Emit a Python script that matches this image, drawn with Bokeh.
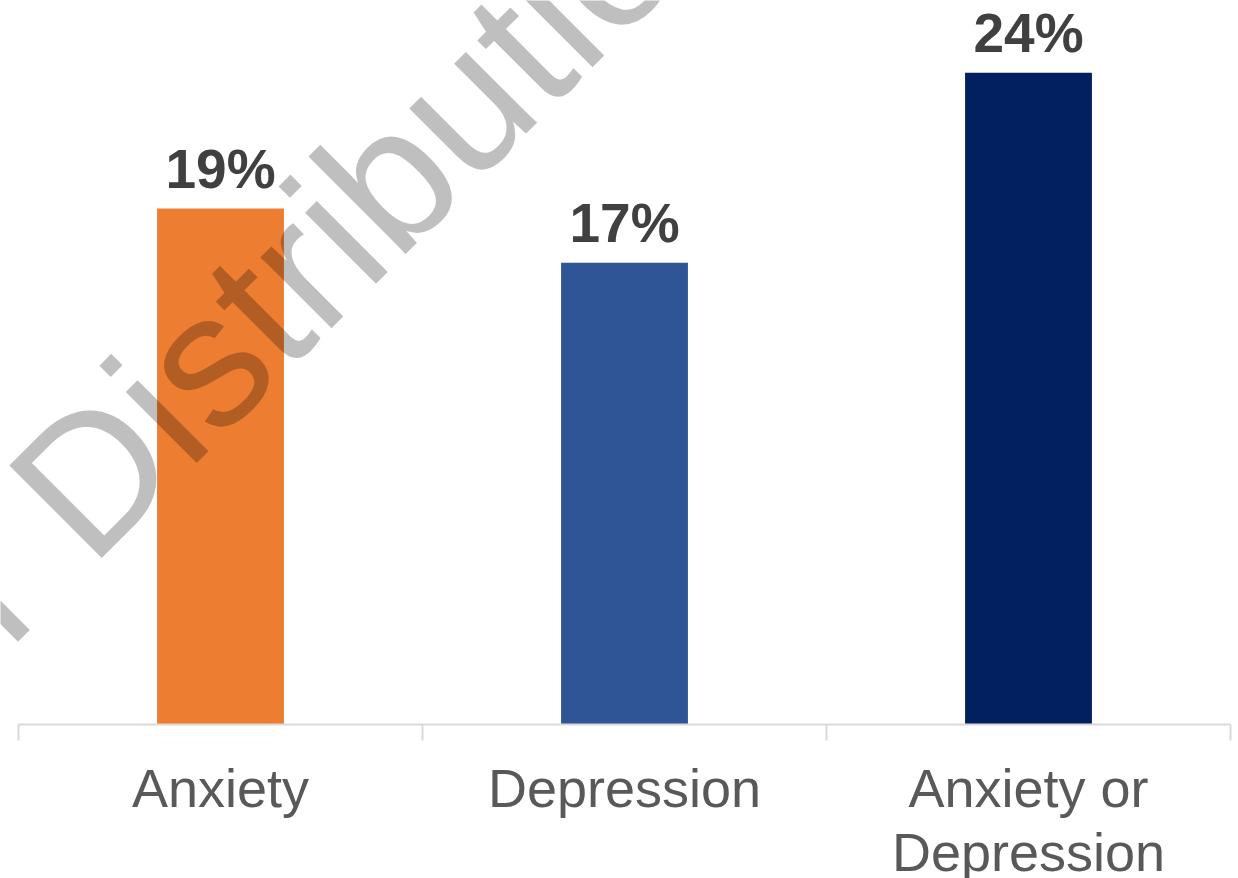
from bokeh.plotting import figure
from bokeh.models import Range1d, FixedTicker, ColumnDataSource, LabelSet, Label
from bokeh.core.properties import value
from bokeh.embed import file_html
from bokeh.resources import INLINE

# ---- data ----
categories = ["Anxiety", "Depression", "Anxiety or\nDepression"]
values = [19, 17, 24]
value_labels = ["19%", "17%", "24%"]
bar_colors = ["#ED7D31", "#2F5597", "#022060"]
watermark_text = "Not for Distribution"

n = len(categories)
xs = [i + 0.5 for i in range(n)]
src = ColumnDataSource(dict(x=xs, top=values, lab=value_labels, color=bar_colors))

p = figure(frame_width=1230, frame_height=724,
           x_range=Range1d(-18 / 404, n), y_range=Range1d(0, 26.66),
           output_backend="svg", toolbar_location=None, y_axis_location=None,
           min_border_left=0, min_border_right=8, min_border_top=0, min_border_bottom=150)
p.outline_line_color = None
p.xgrid.visible = False
p.ygrid.visible = False
p.background_fill_color = "white"
p.border_fill_color = "white"

p.vbar(x="x", top="top", width=0.314, bottom=0, color="color", line_color=None, source=src)

labels = LabelSet(x="x", y="top", text="lab", source=src, text_align="center",
                  text_baseline="alphabetic", y_offset=21,
                  text_font=value("Liberation Sans"), text_font_style="bold",
                  text_font_size="55px", text_color="#404040")
p.add_layout(labels)

ax = p.xaxis[0]
ax.bounds = (0, n)
ax.ticker = FixedTicker(ticks=xs, minor_ticks=[float(i) for i in range(n + 1)])
ax.major_label_overrides = {x: c for x, c in zip(xs, categories)}
ax.major_tick_out = 0
ax.major_tick_in = 0
ax.minor_tick_out = 16
ax.minor_tick_in = 0
ax.minor_tick_line_color = "#D9D9D9"
ax.minor_tick_line_width = 2
ax.axis_line_color = "#D9D9D9"
ax.axis_line_width = 2
ax.major_label_text_font = "Liberation Sans"
ax.major_label_text_font_size = "54px"
ax.major_label_text_line_height = 1.07
ax.major_label_text_color = "#595959"
ax.major_label_standoff = 17

wm = Label(x=0.35, y=11.71, x_units="data", y_units="data", text=watermark_text,
           angle=45, angle_units="deg", text_align="center", text_baseline="alphabetic",
           text_font="Liberation Sans", text_font_size="190px",
           text_color="black", text_alpha=0.25)
p.add_layout(wm)

open("out.html", "w").write(file_html(p, INLINE))
